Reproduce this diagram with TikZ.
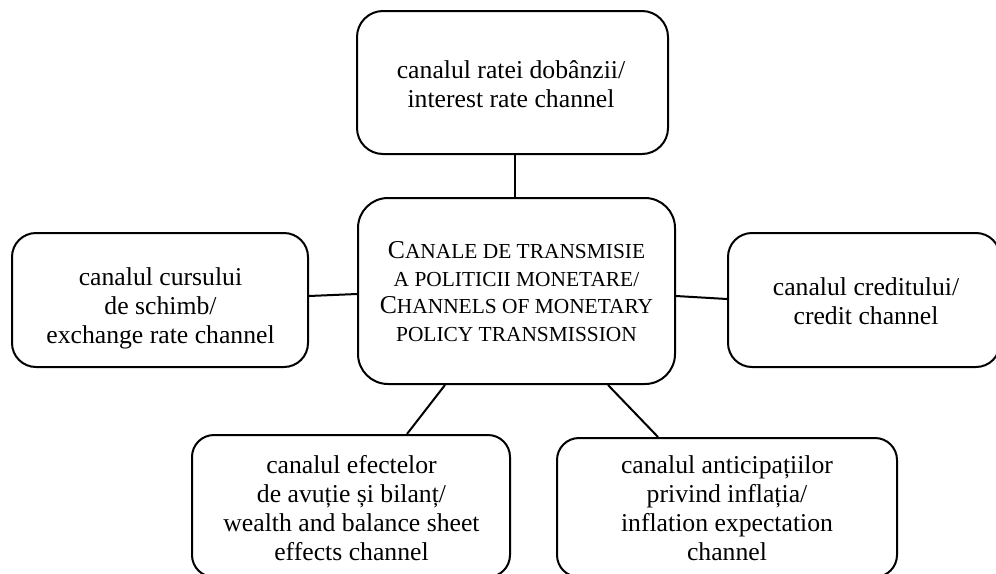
\documentclass[tikz,border=0pt]{standalone}
\usepackage{fontspec}
\setmainfont{Liberation Serif}
\newcommand\BigCap[1]{{\fontsize{25.7pt}{27.8pt}\selectfont #1}}
\begin{document}
\begin{tikzpicture}[x=1pt,y=-1pt,
  box/.style={draw, line width=2pt, rounded corners=#1, inner sep=0pt, rectangle},
  box/.default=24pt,
  txt/.style={inner sep=0pt, align=center, font=\fontsize{25.7pt}{29pt}\selectfont},
  sctxt/.style={inner sep=0pt, align=center, font=\fontsize{21.4pt}{27.8pt}\selectfont},
  link/.style={line width=2pt}]
\useasboundingbox (0,0) rectangle (996,573);
\clip (0,0) rectangle (996,573);
% boxes
\node[box=26pt, minimum width=311pt, minimum height=143pt] (top) at (512.5,82.5) {};
\node[box=30pt, minimum width=317pt, minimum height=186pt] (center) at (516.5,291) {};
\node[box=24pt, minimum width=296pt, minimum height=134pt] (left) at (160,300) {};
\node[box=24pt, minimum width=272pt, minimum height=134pt] (right) at (864,300) {};
\node[box=22pt, minimum width=318pt, minimum height=142pt] (bl) at (351,506) {};
\node[box=22pt, minimum width=340pt, minimum height=139pt] (br) at (727,507.5) {};
% texts
\node[txt] (toptxt) at (511,84) {canalul ratei dobânzii/\\interest rate channel};
\node[sctxt] (centertxt) at (516.5,291.5) {\BigCap{C}ANALE DE TRANSMISIE\\A POLITICII MONETARE/\\\BigCap{C}HANNELS OF MONETARY\\POLICY TRANSMISSION};
\node[txt] (lefttxt) at (160.5,308) {canalul cursului\\de schimb/\\exchange rate channel};
\node[txt] (righttxt) at (866,301) {canalul creditului/\\credit channel};
\node[txt] (bltxt) at (351.5,508) {canalul efectelor\\de avuție și bilanț/\\wealth and balance sheet\\effects channel};
\node[txt] (brtxt) at (727,508.7) {canalul anticipațiilor\\privind inflația/\\inflation expectation\\channel};
% connectors
\draw[link] ([xshift=2.5pt]top.south) -- ([xshift=-1.5pt]center.north);
\draw[link] ([yshift=4pt]left.east) -- ([yshift=-3pt]center.west);
\draw[link] ([yshift=-5pt]center.east) -- ([yshift=1pt]right.west);
\draw[link] ([xshift=-71.5pt]center.south) -- ([xshift=56pt]bl.north);
\draw[link] ([xshift=91.5pt]center.south) -- ([xshift=-69pt]br.north);
\end{tikzpicture}
\end{document}
